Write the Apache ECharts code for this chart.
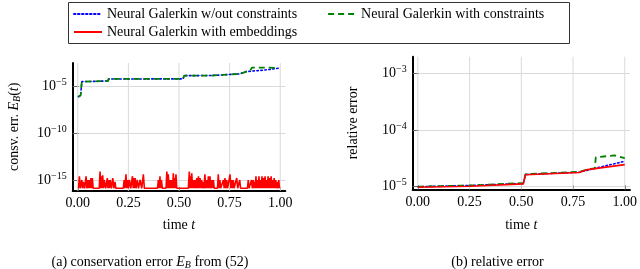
<!DOCTYPE html>
<html>
<head>
<meta charset="utf-8">
<script src="https://cdn.jsdelivr.net/npm/echarts@6/dist/echarts.min.js"></script>
<style>html,body{margin:0;padding:0;background:#fff}#c{width:640px;height:269px}</style>
</head>
<body>
<div id="c"></div>
<script>
// ---- data ----
const seriesNames = ['Neural Galerkin w/out constraints', 'Neural Galerkin with constraints', 'Neural Galerkin with embeddings'];
const xTicks = [0, 0.25, 0.5, 0.75, 1.0];
const xRange = [-0.025, 1.025];
const yTicksA = [1e-15, 1e-10, 1e-5];
const yRangeA = [7.2e-17, 2.8e-3];
const yTicksB = [1e-5, 1e-4, 1e-3];
const yRangeB = [9.0e-6, 1.95e-3];

// (a) conservation error
const tBlueA = [0.003, 0.014, 0.02, 0.15, 0.152, 0.52, 0.525, 0.66, 0.665, 0.80, 0.83, 0.90, 0.95, 0.99];
const blueA  = [7.2e-7, 1.0e-6, 2.9e-5, 3.4e-5, 5.6e-5, 5.7e-5, 1.26e-4, 1.3e-4, 1.9e-4, 1.95e-4, 3.4e-4, 4.5e-4, 5.8e-4, 7.8e-4];
const tGreenA = [0.003, 0.014, 0.02, 0.15, 0.152, 0.52, 0.525, 0.66, 0.665, 0.80, 0.83, 0.85, 0.86, 0.93, 0.99];
const greenA  = [7.2e-7, 1.0e-6, 2.9e-5, 3.4e-5, 5.6e-5, 5.7e-5, 1.26e-4, 1.3e-4, 1.9e-4, 1.95e-4, 3.2e-4, 3.6e-4, 8.9e-4, 9.0e-4, 8.5e-4];
const B = 1.3e-16; // floor level of the red curve
const redA = [
  [0.004,B],[0.008,2.5e-15],[0.013,B],[0.020,1e-15],[0.024,B],[0.028,6.3e-16],[0.034,B],[0.041,2.5e-15],[0.045,B],
  [0.050,1e-15],[0.053,B],[0.057,1e-15],[0.061,B],[0.065,1.6e-15],[0.068,B],[0.072,1.6e-15],[0.076,B],
  [0.106,B],[0.110,7.9e-15],[0.114,B],[0.117,2.5e-15],[0.120,B],[0.123,3.2e-15],[0.127,B],[0.131,1e-15],[0.138,B],
  [0.146,1.6e-15],[0.149,B],[0.152,1e-15],[0.156,B],[0.160,1e-15],[0.166,B],[0.173,1.6e-15],[0.178,B],[0.184,6.3e-16],[0.188,B],
  [0.225,B],[0.229,1e-15],[0.233,B],[0.238,4e-15],[0.242,B],[0.246,1e-15],[0.250,B],[0.255,1e-15],[0.262,B],
  [0.270,2.5e-15],[0.274,B],[0.278,1.6e-15],[0.280,B],[0.283,1.6e-15],[0.288,B],[0.294,1e-15],[0.300,B],
  [0.308,1e-15],[0.316,B],[0.324,4e-15],[0.329,B],
  [0.394,B],[0.398,1e-15],[0.402,B],[0.406,2.5e-15],[0.409,B],[0.413,1e-15],[0.418,B],
  [0.436,B],[0.440,7.9e-15],[0.444,B],[0.447,4e-15],[0.451,B],[0.456,1e-15],[0.460,B],[0.464,1e-15],[0.468,B],
  [0.472,5e-15],[0.475,B],[0.478,1.6e-15],[0.481,B],[0.485,4e-15],[0.489,B],
  [0.546,B],[0.551,7.9e-15],[0.554,B],[0.557,2.5e-15],[0.560,B],[0.563,5e-15],[0.567,B],[0.571,1e-15],[0.575,B],
  [0.579,1e-15],[0.584,B],[0.588,1.6e-15],[0.592,B],[0.596,2.5e-15],[0.600,B],[0.604,1.6e-15],[0.608,B],
  [0.612,1e-15],[0.616,B],[0.620,6.3e-16],[0.624,B],[0.628,4e-15],[0.632,B],[0.637,1e-15],[0.641,B],
  [0.645,2.5e-15],[0.649,B],[0.653,2.5e-15],[0.657,B],[0.662,1e-15],[0.666,B],[0.670,1e-15],[0.674,B],
  [0.690,B],[0.694,4e-15],[0.698,B],[0.702,1e-15],[0.706,B],[0.715,B],[0.719,1e-15],[0.723,B],[0.727,1.6e-15],[0.731,B],
  [0.736,1e-15],[0.740,B],[0.748,B],[0.752,4e-15],[0.756,B],[0.760,1e-15],[0.764,B],[0.768,1e-15],[0.772,B],
  [0.780,B],[0.785,1.6e-15],[0.790,B],[0.796,B],[0.800,1e-15],[0.804,B],
  [0.838,B],[0.842,1e-15],[0.846,B],[0.854,B],[0.858,1e-15],[0.862,B],[0.867,1e-15],[0.871,B],[0.874,6.3e-16],[0.877,B],
  [0.880,2.5e-15],[0.884,B],[0.888,1e-15],[0.891,B],[0.895,2.5e-15],[0.898,B],[0.902,1e-15],[0.906,B],
  [0.910,2.5e-15],[0.913,B],[0.917,1.6e-15],[0.921,B],[0.925,2.5e-15],[0.929,B],[0.933,1e-15],[0.936,B],
  [0.940,2.5e-15],[0.944,B],[0.948,1.6e-15],[0.951,B],[0.955,2.5e-15],[0.959,B],[0.963,1e-15],[0.967,B],
  [0.970,1.6e-15],[0.974,B],[0.978,1e-15],[0.981,B],[0.985,6.3e-16],[0.989,B],[0.993,1e-15],[0.996,B]
];

// (b) relative error
const tRedB = [0.00, 0.25, 0.51, 0.52, 0.78, 0.82, 1.00];
const redB  = [9.8e-6, 1.02e-5, 1.12e-5, 1.62e-5, 1.78e-5, 2.0e-5, 2.45e-5];
const tBlueB = [0.00, 0.25, 0.51, 0.52, 0.78, 0.82, 0.90, 1.00];
const blueB  = [1.0e-5, 1.05e-5, 1.14e-5, 1.64e-5, 1.8e-5, 1.95e-5, 2.3e-5, 2.8e-5];
const tGreenB = [0.00, 0.25, 0.51, 0.52, 0.78, 0.83, 0.855, 0.86, 0.95, 1.00];
const greenB  = [1.0e-5, 1.05e-5, 1.16e-5, 1.66e-5, 1.83e-5, 2.05e-5, 2.1e-5, 3.3e-5, 3.55e-5, 3.2e-5];

// ---- chart ----
const FONT = 'Liberation Serif';
const GRID_C = '#dadada';
const pair = (t, v) => t.map((x, i) => [x, v[i]]);
const colors = ['#0000ff', '#008000', '#ff0000'];
const styles = [
  {color: colors[0], width: 1.6, type: [1.5, 2.5], cap: 'round'},
  {color: colors[1], width: 1.8, type: [6, 4]},
  {color: colors[2], width: 1.6, type: 'solid'}
];
function supFmt(v) {
  const e = Math.round(Math.log10(v));
  return '{b|10}{s|' + (e < 0 ? '\u2212' : '') + Math.abs(e) + '}';
}
const richSup = {
  b: {fontFamily: FONT, fontSize: 14, color: '#000'},
  s: {fontFamily: FONT, fontSize: 10, color: '#000', padding: [0, 0, 8, 0]}
};
function xAxis(gi, gap) {
  return {
    type: 'value', gridIndex: gi, min: xRange[0], max: xRange[1],
    name: '{n|time }{i|t}', nameLocation: 'middle', nameGap: gap,
    nameTextStyle: {rich: {n: {fontFamily: FONT, fontSize: 14, color: '#000'}, i: {fontFamily: FONT, fontSize: 14, fontStyle: 'italic', color: '#000'}}},
    axisLine: {show: true, onZero: false, lineStyle: {color: '#000', width: 2}},
    axisTick: {show: true, inside: true, length: 4, customValues: xTicks, lineStyle: {color: '#666'}},
    axisLabel: {customValues: xTicks, margin: 6, formatter: v => v.toFixed(2), fontFamily: FONT, fontSize: 14, color: '#000'},
    splitLine: {show: false}
  };
}
function yAxis(gi, range, ticks, name, rich, gap) {
  return {
    type: 'log', logBase: 10, gridIndex: gi, min: range[0], max: range[1],
    name: name, nameLocation: 'middle', nameGap: gap, nameRotate: 90,
    nameTextStyle: {rich: rich},
    axisLine: {show: true, onZero: false, lineStyle: {color: '#000', width: 2}},
    axisTick: {show: true, inside: true, length: 6, customValues: ticks, lineStyle: {color: '#666'}},
    axisLabel: {customValues: ticks, margin: 6, formatter: supFmt, rich: richSup},
    splitLine: {show: true, lineStyle: {color: GRID_C, width: 1}}
  };
}
const nameRich = {
  n: {fontFamily: FONT, fontSize: 14, color: '#000'},
  i: {fontFamily: FONT, fontSize: 14, fontStyle: 'italic', color: '#000'},
  sb: {fontFamily: FONT, fontSize: 10, fontStyle: 'italic', color: '#000', padding: [6, 0, 0, 0]}
};
function mk(name, gi, data, k) {
  return {name: name, type: 'line', xAxisIndex: gi, yAxisIndex: gi, data: data,
    symbol: 'none', showSymbol: false, silent: true, animation: false, z: 3 + k,
    lineStyle: styles[k], itemStyle: {color: colors[k]}};
}
// vertical grid lines at the x tick values, drawn through the axes' scales
function vGrid(gi, yr) {
  return xTicks.map(v => ({
    type: 'line', xAxisIndex: gi, yAxisIndex: gi, silent: true, z: 1, animation: false,
    symbol: 'none', lineStyle: {color: GRID_C, width: 1},
    data: [[v, yr[0]], [v, yr[1]]]
  }));
}
function legendPart(names, top, gap) {
  return {
    left: 68, top: top, orient: 'horizontal',
    padding: [5, 0, 0, 5], itemGap: gap, itemWidth: 28, itemHeight: 10,
    itemStyle: {opacity: 0},
    textStyle: {fontFamily: FONT, fontSize: 14, color: '#000'},
    data: names
  };
}
const chart = echarts.init(document.getElementById('c'), null, {renderer: 'canvas'});
chart.setOption({
  animation: false,
  grid: [
    {left: 72.7, top: 63, width: 212.6, height: 127.7},
    {left: 412.7, top: 56.7, width: 219.3, height: 132.6}
  ],
  legend: [
    legendPart([seriesNames[0], seriesNames[1]], 2, 30),
    legendPart([seriesNames[2]], 20, 10)
  ],
  xAxis: [xAxis(0, 28), xAxis(1, 29)],
  yAxis: [
    yAxis(0, yRangeA, yTicksA, '{n|consv. err. }{i|E}{sb|B}{n|(}{i|t}{n|)}', nameRich, 50),
    yAxis(1, yRangeB, yTicksB, '{n|relative error}', nameRich, 52)
  ],
  series: [].concat(
    vGrid(0, yRangeA), vGrid(1, yRangeB),
    [
      mk(seriesNames[0], 0, pair(tBlueA, blueA), 0),
      mk(seriesNames[1], 0, pair(tGreenA, greenA), 1),
      mk(seriesNames[2], 0, redA, 2),
      mk(seriesNames[0], 1, pair(tBlueB, blueB), 0),
      mk(seriesNames[1], 1, pair(tGreenB, greenB), 1),
      mk(seriesNames[2], 1, pair(tRedB, redB), 2)
    ]),
  graphic: [
    {type: 'rect', silent: true, shape: {x: 68.5, y: 2.5, width: 501, height: 41},
     style: {fill: 'none', stroke: '#333', lineWidth: 1}},
    {type: 'text', x: 150, y: 262.7,
     style: {text: '{n|(a) conservation error }{i|E}{sb|B}{n| from (}{r|52}{n|)}',
       align: 'center', verticalAlign: 'middle',
       rich: Object.assign({}, nameRich, {r: {fontFamily: FONT, fontSize: 14, color: '#b01c1c'}})}},
    {type: 'text', x: 497.5, y: 262.7,
     style: {text: '{n|(b) relative error}', align: 'center', verticalAlign: 'middle', rich: nameRich}}
  ]
});
</script>
</body>
</html>
